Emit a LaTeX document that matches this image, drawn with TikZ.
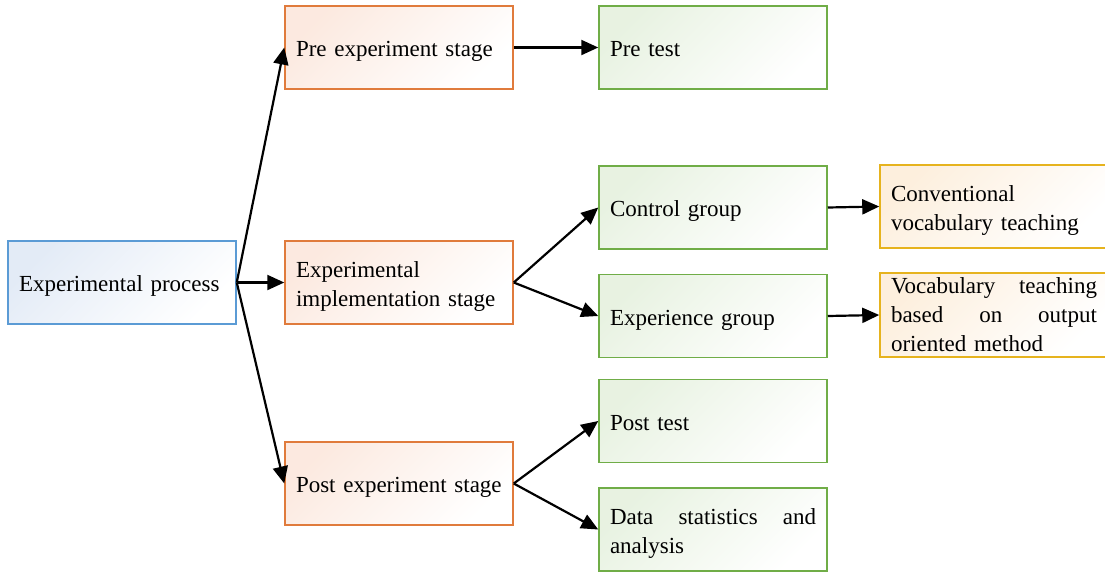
\documentclass[tikz,border=0pt]{standalone}
\usepackage{fontspec}
\setmainfont{Liberation Serif}
\usetikzlibrary{arrows.meta}
\definecolor{bblue}{HTML}{5B9BD5}
\definecolor{tblue}{HTML}{DCE6F4}
\definecolor{borange}{HTML}{E07B3C}
\definecolor{torange}{HTML}{FBE4D8}
\definecolor{bgreen}{HTML}{70AD47}
\definecolor{tgreen}{HTML}{E2EFDA}
\definecolor{bgold}{HTML}{E6B31E}
\definecolor{tgold}{HTML}{FCEBD5}
\newcommand{\tup}{\rule{0pt}{24pt}}
\newcommand{\tone}{\rule[-6pt]{0pt}{30pt}}
\tikzset{
  box/.style={rectangle, line width=1.5pt, minimum width=228pt, minimum height=83pt,
    text width=206pt, inner xsep=11pt, inner ysep=0pt, align=left,
    font=\fontsize{23pt}{29pt}\selectfont},
  bluebox/.style={box, draw=bblue, top color=tblue!80!white, bottom color=white, shading angle=45},
  orangebox/.style={box, draw=borange, top color=torange!80!white, bottom color=white, shading angle=45},
  greenbox/.style={box, draw=bgreen, top color=tgreen!80!white, bottom color=white, shading angle=45},
  goldbox/.style={box, draw=bgold, top color=tgold!80!white, bottom color=white, shading angle=45},
  arr/.style={line width=2.2pt, -{Triangle[length=17pt,width=15pt]}}
}
\begin{document}
\begin{tikzpicture}[x=1pt,y=-1pt]
\useasboundingbox (0,0) rectangle (1105,571);
\node[bluebox] (ep) at (122,282.5) {\tone Experimental process};
\node[orangebox] (pre) at (399,47.5) {\tone Pre experiment stage};
\node[orangebox] (impl) at (399,282.5) {\tup Experimental\\implementation stage};
\node[orangebox] (post) at (399,483.5) {\tone Post experiment stage};
\node[greenbox] (pretest) at (713,47.5) {\tone Pre test};
\node[greenbox] (control) at (713,207.5) {\tone Control group};
\node[greenbox] (exper) at (713,316) {\tone Experience group};
\node[greenbox] (posttest) at (713,421) {\tone Post test};
\node[greenbox] (data) at (713,529.5) {\tup Data\hfill statistics\hfill and\\analysis};
\node[goldbox] (conv) at (994,206.5) {\tup Conventional\\vocabulary teaching};
\node[goldbox, minimum height=84pt] (vocab) at (994,315) {Vocabulary\hfill teaching\\based\hfill on\hfill output\\oriented method};
\draw[arr] (ep.east) -- (pre.west);
\draw[arr] (ep.east) -- (impl.west);
\draw[arr] (ep.east) -- (post.west);
\draw[arr] (pre.east) -- (pretest.west);
\draw[arr] (impl.east) -- (control.west);
\draw[arr] (impl.east) -- (exper.west);
\draw[arr] (post.east) -- (posttest.west);
\draw[arr] (post.east) -- (data.west);
\draw[arr] (control.east) -- (conv.west);
\draw[arr] (exper.east) -- (vocab.west);
\end{tikzpicture}
\end{document}
